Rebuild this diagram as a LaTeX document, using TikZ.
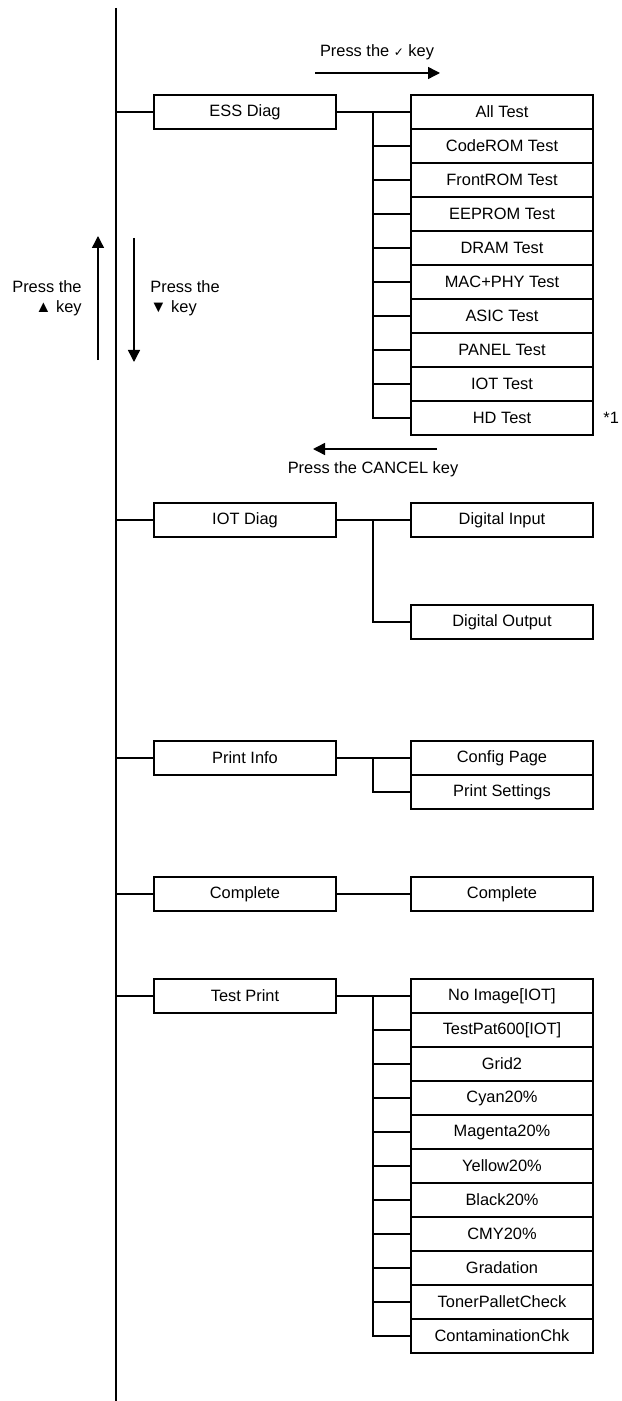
\documentclass[tikz,border=0pt]{standalone}
\usepackage{fontspec}
\setmainfont{Liberation Sans}
\newfontfamily\symfont{DejaVu Sans}
\usetikzlibrary{arrows.meta, positioning}

\begin{document}
\begin{tikzpicture}[
        x=0.5pt, y=-0.5pt,
        >={Triangle[length=6pt,width=6pt]},
        menuBox/.style={
            draw,
            line width=0.7pt,
            minimum width=91pt,
            minimum height=17pt,
            inner sep=0pt,
            outer sep=0pt,
            font=\fontsize{8.2}{10}\selectfont
        },
        subBox/.style={
            menuBox
        },
        linkLine/.style={
            line width=0.7pt
        },
        keyArrow/.style={
            ->,
            line width=0.7pt
        },
        keyText/.style={
            inner sep=0pt,
            font=\fontsize{8.2}{10}\selectfont
        }
    ]
    \useasboundingbox (0,0) rectangle (621,1401);

    % Spine and fork column
    \coordinate (spineTop) at (116,8);
    \coordinate (spineBot) at (116,1401);
    \coordinate (fork) at (373,0);
    \draw[linkLine] (spineTop) -- (spineBot);

    % Key hints
    \node[keyText] (okText) at (377,52) {Press the {\symfont\fontsize{6}{8}\selectfont ✓} key};
    \coordinate (okStart) at (315,73);
    \coordinate (okEnd) at (440,73);
    \draw[keyArrow] (okStart) -- (okEnd);

    \node[keyText, align=right, anchor=east] (upText) at (82,298) {Press the\\▲ key};
    \coordinate (upStart) at (98,360);
    \coordinate (upEnd) at (98,236);
    \draw[keyArrow] (upStart) -- (upEnd);

    \node[keyText, align=left, anchor=west] (downText) at (150,298) {Press the\\▼ key};
    \coordinate (downStart) at (134,238);
    \coordinate (downEnd) at (134,362);
    \draw[keyArrow] (downStart) -- (downEnd);

    \coordinate (cancelStart) at (437,449);
    \coordinate (cancelEnd) at (313,449);
    \draw[keyArrow] (cancelStart) -- (cancelEnd);
    \node[keyText] (cancelText) at (373,469) {Press the CANCEL key};

    % ESS Diag
    \node[menuBox] (ess) at (245,112) {ESS Diag};
    \node[subBox] (ess1) at (502,112) {All Test};
    \node[subBox, below=0pt of ess1] (ess2) {CodeROM Test};
    \node[subBox, below=0pt of ess2] (ess3) {FrontROM Test};
    \node[subBox, below=0pt of ess3] (ess4) {EEPROM Test};
    \node[subBox, below=0pt of ess4] (ess5) {DRAM Test};
    \node[subBox, below=0pt of ess5] (ess6) {MAC+PHY Test};
    \node[subBox, below=0pt of ess6] (ess7) {ASIC Test};
    \node[subBox, below=0pt of ess7] (ess8) {PANEL Test};
    \node[subBox, below=0pt of ess8] (ess9) {IOT Test};
    \node[subBox, below=0pt of ess9] (ess10) {HD Test};
    \node[keyText, anchor=west] (noteOne) at (603,418) {*1};

    % IOT Diag
    \node[menuBox] (iot) at (245,520) {IOT Diag};
    \node[subBox] (din) at (502,520) {Digital Input};
    \node[subBox] (dout) at (502,622) {Digital Output};

    % Print Info
    \node[menuBox] (info) at (245,758) {Print Info};
    \node[subBox] (cfg) at (502,758) {Config Page};
    \node[subBox, below=0pt of cfg] (pset) {Print Settings};

    % Complete
    \node[menuBox] (done) at (245,894) {Complete};
    \node[subBox] (done1) at (502,894) {Complete};

    % Test Print
    \node[menuBox] (tprint) at (245,996) {Test Print};
    \node[subBox] (tp1) at (502,996) {No Image[IOT]};
    \node[subBox, below=0pt of tp1] (tp2) {TestPat600[IOT]};
    \node[subBox, below=0pt of tp2] (tp3) {Grid2};
    \node[subBox, below=0pt of tp3] (tp4) {Cyan20\%};
    \node[subBox, below=0pt of tp4] (tp5) {Magenta20\%};
    \node[subBox, below=0pt of tp5] (tp6) {Yellow20\%};
    \node[subBox, below=0pt of tp6] (tp7) {Black20\%};
    \node[subBox, below=0pt of tp7] (tp8) {CMY20\%};
    \node[subBox, below=0pt of tp8] (tp9) {Gradation};
    \node[subBox, below=0pt of tp9] (tp10) {TonerPalletCheck};
    \node[subBox, below=0pt of tp10] (tp11) {ContaminationChk};

    % Spine to menus
    \foreach \m in {ess, iot, info, done, tprint}
        \draw[linkLine] (\m.west -| spineTop) -- (\m.west);

    % Menus to items
    \draw[linkLine] (ess.east) -- (ess1.west);
    \draw[linkLine] (ess1.west -| fork) |- (ess10.west);
    \foreach \k in {2,...,9}
        \draw[linkLine] (ess\k.west -| fork) -- (ess\k.west);

    \draw[linkLine] (iot.east) -- (din.west);
    \draw[linkLine] (din.west -| fork) |- (dout.west);

    \draw[linkLine] (info.east) -- (cfg.west);
    \draw[linkLine] (cfg.west -| fork) |- (pset.west);

    \draw[linkLine] (done.east) -- (done1.west);

    \draw[linkLine] (tprint.east) -- (tp1.west);
    \draw[linkLine] (tp1.west -| fork) |- (tp11.west);
    \foreach \k in {2,...,10}
        \draw[linkLine] (tp\k.west -| fork) -- (tp\k.west);
\end{tikzpicture}
\end{document}
